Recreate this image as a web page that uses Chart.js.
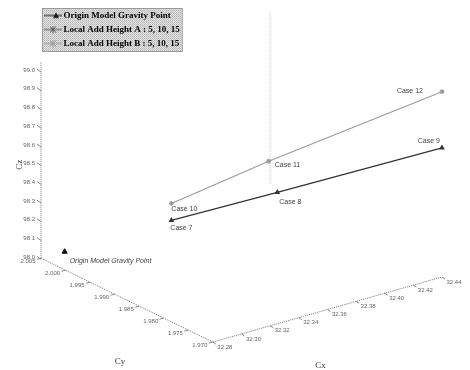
<!DOCTYPE html>
<html>
<head>
<meta charset="utf-8">
<script src="https://cdn.jsdelivr.net/npm/chart.js@4.4.0/dist/chart.umd.min.js"></script>
<style>
  html, body { margin: 0; padding: 0; background: #fff; }
</style>
</head>
<body>
<canvas id="chart" width="470" height="370"></canvas>
<script>
// ---- data (Cx, Cy, Cz of the gravity points) ----
const originName = 'Origin Model Gravity Point';
const originCx = [32.2845];
const originCy = [2.0015];
const originCz = [98.07];

const heights = [5, 10, 15];

const caseNamesA = ['Case 7', 'Case 8', 'Case 9'];
const cxA = [32.299, 32.349, 32.44];
const cyA = [1.984, 1.977, 1.970];
const czA = [98.43, 98.56, 98.69];

const caseNamesB = ['Case 10', 'Case 11', 'Case 12'];
const cxB = [32.299, 32.343, 32.44];
const cyB = [1.984, 1.977, 1.970];
const czB = [98.52, 98.74, 98.99];

const cxTicks = [32.28, 32.30, 32.32, 32.34, 32.36, 32.38, 32.40, 32.42, 32.44];
const cyTicks = [1.970, 1.975, 1.980, 1.985, 1.990, 1.995, 2.000, 2.005];
const czTicks = [98.0, 98.1, 98.2, 98.3, 98.4, 98.5, 98.6, 98.7, 98.8, 98.9, 99.0];

// ---- projection of the 3d box onto the flat chart plane ----
const AX = { x: 232, y: 66 };   // whole Cx range
const AY = { x: -174, y: 85 };  // whole Cy range (front -> back)
const AZ = 190;                 // whole Cz range

const span = t => [t[0], t[t.length - 1]];
const cxRange = span(cxTicks), cyRange = span(cyTicks), czRange = span(czTicks);
const frac = (val, r) => (val - r[0]) / (r[1] - r[0]);

function project(cx, cy, cz) {
  const u = frac(cx, cxRange), v = frac(cy, cyRange), w = frac(cz, czRange);
  return { x: AX.x * u + AY.x * v, y: AX.y * u + AY.y * v + AZ * w };
}
const toPoints = (xs, ys, zs) => xs.map((x, i) => project(x, ys[i], zs[i]));

// label placement (dx, dy, align) for every point
const labelPosA = [[-1, 8, 'left'], [2, 10, 'left'], [-2, -7, 'right']];
const labelPosB = [[0, 6, 'left'], [6, 4, 'left'], [-19, -1, 'right']];
const labelPosOrigin = [[5, 9, 'left']];

function legendMarker(color, style) {
  const c = document.createElement('canvas');
  c.width = 18; c.height = 8;
  const g = c.getContext('2d');
  g.strokeStyle = color; g.fillStyle = color; g.lineWidth = 1;
  g.beginPath(); g.moveTo(0, 4); g.lineTo(18, 4); g.stroke();
  if (style === 'triangle') {
    g.beginPath(); g.moveTo(12, 1); g.lineTo(15, 6.5); g.lineTo(9, 6.5); g.closePath(); g.fill();
  } else {
    g.beginPath();
    g.moveTo(6, 1); g.lineTo(12, 7); g.moveTo(12, 1); g.lineTo(6, 7);
    g.moveTo(9, 0.5); g.lineTo(9, 7.5);
    g.stroke();
  }
  return c;
}

function dither() {
  const c = document.createElement('canvas');
  c.width = 2; c.height = 2;
  const g = c.getContext('2d');
  g.fillStyle = '#e2e2e2'; g.fillRect(0, 0, 2, 2);
  g.fillStyle = '#b4b4b4'; g.fillRect(0, 0, 1, 1);
  g.fillStyle = '#c6c6c6'; g.fillRect(1, 1, 1, 1);
  return c;
}

const toPx = (chart, p) => ({
  x: chart.scales.x.getPixelForValue(p.x),
  y: chart.scales.y.getPixelForValue(p.y)
});

const backgroundPlugin = {
  id: 'background',
  beforeDraw(chart) {
    const ctx = chart.ctx;
    ctx.save();
    ctx.fillStyle = '#fff';
    ctx.fillRect(0, 0, chart.width, chart.height);
    const boxes = chart.legend && chart.legend.legendHitBoxes;
    if (boxes && boxes.length) {
      const left = Math.min(...boxes.map(b => b.left)) - 5;
      const top = boxes[0].top - 3;
      const right = Math.max(...boxes.map(b => b.left + b.width)) + 2;
      const last = boxes[boxes.length - 1];
      const bottom = last.top + last.height + 3;
      ctx.fillStyle = ctx.createPattern(dither(), 'repeat');
      ctx.fillRect(left, top, right - left, bottom - top);
      ctx.strokeStyle = '#999';
      ctx.strokeRect(left + 0.5, top + 0.5, right - left, bottom - top);
    }
    ctx.restore();
  }
};

const axesPlugin = {
  id: 'axes3d',
  beforeDatasetsDraw(chart) {
    const ctx = chart.ctx;
    const seg = (a, b) => {
      const p = toPx(chart, a), q = toPx(chart, b);
      ctx.beginPath(); ctx.moveTo(p.x, p.y); ctx.lineTo(q.x, q.y); ctx.stroke();
    };
    const czTop = czRange[1] + 0.05 * (czRange[1] - czRange[0]);
    ctx.save();
    ctx.lineWidth = 1;
    ctx.setLineDash([1, 1]);
    // faint back edge
    ctx.strokeStyle = '#c4c4c4';
    seg(project(cxRange[1], cyRange[1], czRange[0] + 0.05), project(cxRange[1], cyRange[1], czRange[1] - 0.03));
    // axes
    ctx.strokeStyle = '#777';
    seg(project(cxRange[0], cyRange[1], czRange[0]), project(cxRange[0], cyRange[1], czTop));
    seg(project(cxRange[0], cyRange[1], czRange[0]), project(cxRange[0], cyRange[0], czRange[0]));
    seg(project(cxRange[0], cyRange[0], czRange[0]), project(cxRange[1], cyRange[0], czRange[0]));
    ctx.setLineDash([]);

    ctx.font = '6px "Liberation Sans", Arial, sans-serif';
    ctx.fillStyle = '#666';
    ctx.strokeStyle = '#888';
    ctx.textBaseline = 'middle';

    // Cz ticks
    ctx.textAlign = 'right';
    czTicks.forEach(t => {
      const p = toPx(chart, project(cxRange[0], cyRange[1], t));
      ctx.beginPath(); ctx.moveTo(p.x - 4, p.y - 2); ctx.lineTo(p.x, p.y + 1); ctx.stroke();
      ctx.fillText(t.toFixed(1), p.x - 6, p.y - 1);
    });
    // Cy ticks
    ctx.textAlign = 'center';
    cyTicks.forEach(t => {
      const p = toPx(chart, project(cxRange[0], t, czRange[0]));
      ctx.beginPath(); ctx.moveTo(p.x, p.y); ctx.lineTo(p.x - 4, p.y + 1); ctx.stroke();
      ctx.fillText(t.toFixed(3), p.x - 13, p.y + 3);
    });
    // Cx ticks
    cxTicks.forEach(t => {
      const p = toPx(chart, project(t, cyRange[0], czRange[0]));
      ctx.beginPath(); ctx.moveTo(p.x, p.y); ctx.lineTo(p.x + 3, p.y + 2); ctx.stroke();
      ctx.fillText(t.toFixed(2), p.x + 12, p.y + 5);
    });

    // axis titles
    ctx.font = '9px "Liberation Serif", serif';
    ctx.fillStyle = '#333';
    const zMid = toPx(chart, project(cxRange[0], cyRange[1], (czRange[0] + czRange[1]) / 2));
    ctx.save();
    ctx.translate(zMid.x - 21, zMid.y);
    ctx.rotate(-Math.PI / 2);
    ctx.fillText('Cz', 0, 0);
    ctx.restore();
    const yMid = toPx(chart, project(cxRange[0], (cyRange[0] + cyRange[1]) / 2, czRange[0]));
    ctx.fillText('Cy', yMid.x - 7, yMid.y + 61);
    const xMid = toPx(chart, project((cxRange[0] + cxRange[1]) / 2, cyRange[0], czRange[0]));
    ctx.fillText('Cx', xMid.x - 7, xMid.y + 56);
    ctx.restore();
  }
};

const pointLabelPlugin = {
  id: 'pointLabels',
  afterDatasetsDraw(chart) {
    const ctx = chart.ctx;
    ctx.save();
    ctx.textBaseline = 'middle';
    chart.data.datasets.forEach((ds, i) => {
      const meta = chart.getDatasetMeta(i);
      ds.names.forEach((name, j) => {
        const el = meta.data[j];
        const [dx, dy, align] = ds.labelPos[j];
        ctx.font = ds.labelFont;
        ctx.fillStyle = '#444';
        ctx.textAlign = align;
        ctx.fillText(name, el.x + dx, el.y + dy);
      });
    });
    ctx.restore();
  }
};

const markers = [
  legendMarker('#111', 'triangle'),
  legendMarker('#555', 'star'),
  legendMarker('#999', 'star')
];

new Chart(document.getElementById('chart'), {
  type: 'scatter',
  data: {
    datasets: [
      {
        label: originName,
        data: toPoints(originCx, originCy, originCz),
        names: [originName],
        labelPos: labelPosOrigin,
        labelFont: 'italic 7px "Liberation Sans", Arial, sans-serif',
        pointStyle: 'triangle',
        pointRadius: 3,
        backgroundColor: '#111',
        borderColor: '#111',
        showLine: false,
        clip: false
      },
      {
        label: 'Local Add Height A : ' + heights.join(', '),
        data: toPoints(cxA, cyA, czA),
        names: caseNamesA,
        labelPos: labelPosA,
        labelFont: '7px "Liberation Sans", Arial, sans-serif',
        pointStyle: 'triangle',
        pointRadius: 2,
        backgroundColor: '#333',
        borderColor: '#333',
        borderWidth: 1.3,
        showLine: true,
        clip: false
      },
      {
        label: 'Local Add Height B : ' + heights.join(', '),
        data: toPoints(cxB, cyB, czB),
        names: caseNamesB,
        labelPos: labelPosB,
        labelFont: '7px "Liberation Sans", Arial, sans-serif',
        pointStyle: 'star',
        pointRadius: 2.5,
        backgroundColor: '#9a9a9a',
        borderColor: '#9a9a9a',
        borderWidth: 1.1,
        showLine: true,
        clip: false
      }
    ]
  },
  options: {
    responsive: false,
    animation: false,
    layout: { padding: { left: 42, top: 9, right: 0, bottom: 0 } },
    scales: {
      x: { type: 'linear', display: false, min: -173, max: 255 },
      y: { type: 'linear', display: false, min: -23, max: 338 }
    },
    plugins: {
      tooltip: { enabled: false },
      legend: {
        position: 'chartArea',
        align: 'start',
        // empty title only pushes the column of entries down
        title: { display: true, text: '', font: { size: 5 } },
        labels: {
          usePointStyle: true,
          pointStyleWidth: 12,
          padding: 5,
          color: '#000',
          font: { family: '"Liberation Serif", "Times New Roman", serif', size: 9, weight: 'bold' },
          generateLabels(chart) {
            return Chart.defaults.plugins.legend.labels.generateLabels(chart)
              .map((item, i) => Object.assign(item, { pointStyle: markers[i] }));
          }
        }
      }
    }
  },
  plugins: [backgroundPlugin, axesPlugin, pointLabelPlugin]
});
</script>
</body>
</html>
